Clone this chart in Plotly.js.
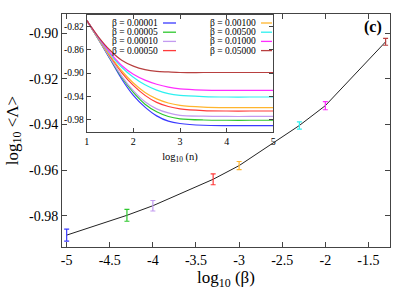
<!DOCTYPE html>
<html>
<head>
<meta charset="utf-8">
<script src="https://cdn.plot.ly/plotly-3.0.1.min.js"></script>
<style>
html,body{margin:0;padding:0;background:#fff;}
#chart{width:415px;height:291px;}
</style>
</head>
<body>
<div id="chart"></div>
<script>
// ---- data ----
var betaLabels = ['β = 0.00001','β = 0.00005','β = 0.00010','β = 0.00050','β = 0.00100','β = 0.00500','β = 0.01000','β = 0.05000'];
var colors = ['#3a3aff','#2ec82e','#c39bf0','#ff3b3b','#ffb52e','#2ef0f0','#ff2eff','#b84040'];
var logBeta = [-5, -4.301, -4, -3.301, -3, -2.301, -2, -1.301];
var logLambda = [-0.9885, -0.9798, -0.9756, -0.9640, -0.9580, -0.9404, -0.9317, -0.9037];
var lambdaErr = [0.0026, 0.0026, 0.0023, 0.0024, 0.0018, 0.0016, 0.0018, 0.0015];

var logN = [1, 1.25, 1.5, 1.75, 2, 2.25, 2.5, 2.75, 3, 3.5, 4, 4.5, 5];
var curveB1 = [-0.810,-0.842,-0.876,-0.910,-0.938,-0.958,-0.973,-0.982,-0.986,-0.989,-0.9895,-0.9895,-0.9895];
var curveB2 = [-0.810,-0.842,-0.875,-0.907,-0.933,-0.953,-0.966,-0.974,-0.978,-0.980,-0.9805,-0.9805,-0.9805];
var curveB3 = [-0.810,-0.842,-0.874,-0.905,-0.930,-0.949,-0.961,-0.968,-0.972,-0.9735,-0.9740,-0.9740,-0.9740];
var curveB4 = [-0.810,-0.841,-0.871,-0.899,-0.921,-0.938,-0.950,-0.957,-0.961,-0.964,-0.9647,-0.9647,-0.9647];
var curveB5 = [-0.810,-0.841,-0.870,-0.896,-0.917,-0.933,-0.944,-0.951,-0.955,-0.958,-0.9589,-0.9589,-0.9589];
var curveB6 = [-0.810,-0.840,-0.867,-0.890,-0.907,-0.920,-0.929,-0.935,-0.938,-0.940,-0.9408,-0.9408,-0.9408];
var curveB7 = [-0.810,-0.839,-0.865,-0.887,-0.902,-0.912,-0.919,-0.924,-0.927,-0.929,-0.9295,-0.9295,-0.9295];
var curveB8 = [-0.810,-0.838,-0.861,-0.878,-0.888,-0.894,-0.897,-0.898,-0.899,-0.899,-0.8990,-0.8990,-0.8990];
var curves = [curveB1,curveB2,curveB3,curveB4,curveB5,curveB6,curveB7,curveB8];

var mainXTicks = [-5,-4.5,-4,-3.5,-3,-2.5,-2,-1.5];
var mainXText = ['-5','-4.5','-4','-3.5','-3','-2.5','-2','-1.5'];
var mainYTicks = [-0.98,-0.96,-0.94,-0.92,-0.90];
var mainYText = ['-0.98','-0.96','-0.94','-0.92','-0.90'];
var insetXTicks = [1,2,3,4,5];
var insetXText = ['1','2','3','4','5'];
var insetYTicks = [-0.98,-0.94,-0.90,-0.86,-0.82];
var insetYText = ['-0.98','-0.94','-0.90','-0.86','-0.82'];

// ---- layout helpers ----
var W = 415, H = 291, ML = 62, MR = 25, MT = 14, MB = 44;
var PW = W - ML - MR, PH = H - MT - MB;
function px(x){ return (x - ML) / PW; }
function py(y){ return (H - MB - y) / PH; }

var serif = 'Liberation Serif, DejaVu Serif, serif';
var axisCol = '#444';

var traces = [];
traces.push({x: logBeta, y: logLambda, mode: 'lines', line: {color: '#222', width: 1},
  xaxis: 'x', yaxis: 'y', hoverinfo: 'skip'});
for (var i = 0; i < logBeta.length; i++) {
  traces.push({x: [logBeta[i]], y: [logLambda[i]], mode: 'markers',
    marker: {size: 1, color: colors[i], opacity: 0},
    error_y: {type: 'data', array: [lambdaErr[i]], visible: true, color: colors[i], thickness: 1.2, width: 2.5},
    xaxis: 'x', yaxis: 'y', hoverinfo: 'skip'});
}
for (var k = 0; k < curves.length; k++) {
  traces.push({x: logN, y: curves[k], mode: 'lines', line: {color: colors[k], width: 1.2, shape: 'spline', smoothing: 0.8},
    xaxis: 'x2', yaxis: 'y2', hoverinfo: 'skip'});
}

var annotations = [];
var shapes = [];
var rowY = [23, 32.2, 41.4, 50.6];
for (var j = 0; j < betaLabels.length; j++) {
  var col = j < 4 ? 0 : 1;
  var row = j % 4;
  var textRight = col === 0 ? 160 : 258;
  var l0 = col === 0 ? 163 : 261;
  var l1 = col === 0 ? 176 : 272;
  annotations.push({xref: 'paper', yref: 'paper', x: px(textRight), y: py(rowY[row]),
    xanchor: 'right', yanchor: 'middle', showarrow: false, text: betaLabels[j],
    font: {family: serif, size: 9.5, color: '#000'}});
  shapes.push({type: 'line', xref: 'paper', yref: 'paper', x0: px(l0), x1: px(l1),
    y0: py(rowY[row]), y1: py(rowY[row]), line: {color: colors[j], width: 1.3}});
}
annotations.push({xref: 'paper', yref: 'paper', x: px(373), y: py(27), xanchor: 'center', yanchor: 'middle',
  showarrow: false, text: '<b>(c)</b>', font: {family: serif, size: 16, color: '#000'}});

var layout = {
  width: W, height: H,
  margin: {l: ML, r: MR, t: MT, b: MB},
  paper_bgcolor: '#fff', plot_bgcolor: '#fff',
  showlegend: false, hovermode: false,
  font: {family: serif, color: '#000'},
  xaxis: {domain: [0, 1], range: [-5.054, -1.25], tickvals: mainXTicks, ticktext: mainXText,
    ticks: 'inside', ticklen: 5, tickcolor: axisCol, mirror: 'ticks', showline: true, linecolor: axisCol, linewidth: 1,
    showgrid: false, zeroline: false, tickfont: {family: serif, size: 14, color: '#000'},
    title: {text: 'log<sub>10</sub> (β)', font: {family: serif, size: 17, color: '#000'}, standoff: 4}},
  yaxis: {domain: [0, 1], range: [-0.9937, -0.8915], tickvals: mainYTicks, ticktext: mainYText,
    ticks: 'inside', ticklen: 5, tickcolor: axisCol, mirror: 'ticks', showline: true, linecolor: axisCol, linewidth: 1,
    showgrid: false, zeroline: false, tickfont: {family: serif, size: 14, color: '#000'},
    title: {text: 'log<sub>10</sub> &lt;Λ&gt;', font: {family: serif, size: 17, color: '#000'}, standoff: 6}},
  xaxis2: {domain: [px(86.7), px(273.3)], anchor: 'y2', range: [1, 5], tickvals: insetXTicks, ticktext: insetXText,
    ticks: 'inside', ticklen: 4, tickcolor: axisCol, mirror: 'ticks', showline: true, linecolor: axisCol, linewidth: 1,
    showgrid: false, zeroline: false, tickfont: {family: serif, size: 10, color: '#000'},
    title: {text: 'log<sub>10</sub> (n)', font: {family: serif, size: 10.5, color: '#000'}, standoff: 6}},
  yaxis2: {domain: [py(131.7), py(14.5)], anchor: 'x2', range: [-1.0, -0.80], tickvals: insetYTicks, ticktext: insetYText,
    ticks: 'inside', ticklen: 4, tickcolor: axisCol, mirror: 'ticks', showline: true, linecolor: axisCol, linewidth: 1,
    showgrid: false, zeroline: false, tickfont: {family: serif, size: 9.5, color: '#000'}},
  annotations: annotations,
  shapes: shapes
};

Plotly.newPlot('chart', traces, layout, {displayModeBar: false, staticPlot: true});
</script>
</body>
</html>
